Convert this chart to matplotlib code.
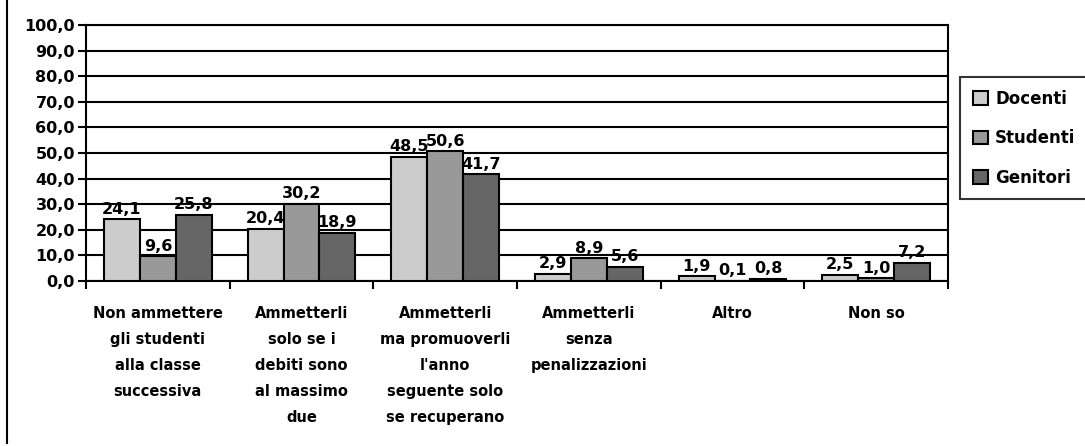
import numpy as np
import matplotlib
matplotlib.use('Agg')
import matplotlib.pyplot as plt
from matplotlib.lines import Line2D

categories = [
    "Non ammettere\ngli studenti\nalla classe\nsuccessiva",
    "Ammetterli\nsolo se i\ndebiti sono\nal massimo\ndue",
    "Ammetterli\nma promuoverli\nl'anno\nseguente solo\nse recuperano",
    "Ammetterli\nsenza\npenalizzazioni",
    "Altro",
    "Non so",
]
series_names = ['Docenti', 'Studenti', 'Genitori']
docenti = [24.1, 20.4, 48.5, 2.9, 1.9, 2.5]
studenti = [9.6, 30.2, 50.6, 8.9, 0.1, 1.0]
genitori = [25.8, 18.9, 41.7, 5.6, 0.8, 7.2]
colors = ['#cccccc', '#999999', '#666666']

plt.rcParams['font.family'] = 'DejaVu Sans'
plt.rcParams['font.weight'] = 'bold'

W, H = 1085, 446
fig = plt.figure(figsize=(W / 100, H / 100), dpi=100)
ax = fig.add_axes([86 / W, (H - 281) / H, (948 - 86) / W, (281 - 25) / H])

x = np.arange(len(categories))
bw = 0.25
for i, (name, vals) in enumerate(zip(series_names, [docenti, studenti, genitori])):
    pos = x + (i - 1) * bw
    ax.bar(pos, vals, bw, color=colors[i], edgecolor='black', linewidth=1.5,
           label=name, zorder=3)
    for p, v in zip(pos, vals):
        ax.text(p, v + 1.0, f"{v:.1f}".replace('.', ','), ha='center', va='bottom',
                fontsize=11.5, fontweight='bold', zorder=4)

ax.set_xlim(-0.5, len(categories) - 0.5)
ax.set_ylim(0, 100)
ax.set_yticks(np.arange(0, 101, 10))
ax.set_yticklabels([f"{v:.1f}".replace('.', ',') for v in np.arange(0, 101, 10)],
                   fontsize=11.5, fontweight='bold')
ax.yaxis.grid(True, color='black', linewidth=1.5, zorder=0)
ax.tick_params(axis='y', direction='out', length=6, width=1.5, pad=2)

ax.set_xticks(x)
ax.set_xticklabels(categories, fontsize=10.5, fontweight='bold', linespacing=1.92)
ax.set_xticks(np.arange(-0.5, len(categories), 1), minor=True)
ax.tick_params(axis='x', which='major', length=0, pad=18)
ax.tick_params(axis='x', which='minor', direction='out', length=6, width=1.5)

for s in ax.spines.values():
    s.set_linewidth(1.5)

# left frame line of the chart area
fig.add_artist(Line2D([7 / W, 7 / W], [3 / H, 1], color='black', linewidth=1.5))

leg = fig.legend(loc='upper left', bbox_to_anchor=(960 / W, 1 - 77 / H),
                 frameon=True, fancybox=False, edgecolor='black', fontsize=12,
                 labelspacing=1.3, handlelength=0.9, handleheight=0.9,
                 handletextpad=0.45, borderpad=0.75, borderaxespad=0)
leg.get_frame().set_linewidth(1.5)

fig.savefig('out.png', dpi=100)
